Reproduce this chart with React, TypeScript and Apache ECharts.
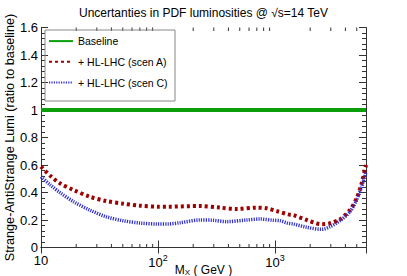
import React, { useEffect, useRef } from "react";
import * as echarts from "echarts";

const FONT = "'Liberation Sans', Arial, Helvetica, sans-serif";

const TITLE = "Uncertanties in PDF luminosities @ \u221As=14 TeV";
const Y_NAME = "Strange-AntiStrange Lumi (ratio to baseline)";
const SERIES_NAMES = ["Baseline", "+ HL-LHC (scen A)", "+ HL-LHC (scen C)"];

const MASS_BASE = [10, 6000];
const BASELINE = [1, 1];

const MASS_A = [10, 12, 14.5, 19, 26, 36, 50, 70, 100, 122, 229, 339, 471, 698, 849, 1034, 1300, 1433, 1866, 2508, 2951, 3594, 4375, 4990, 5507, 6000];
const SCEN_A = [0.588, 0.522, 0.467, 0.418, 0.37, 0.338, 0.319, 0.304, 0.297, 0.297, 0.302, 0.29, 0.28, 0.29, 0.285, 0.265, 0.241, 0.236, 0.2, 0.169, 0.176, 0.205, 0.273, 0.358, 0.467, 0.6];

const MASS_C = [10, 12, 14.5, 19, 26, 36, 50, 70, 100, 122, 154, 229, 295, 386, 573, 745, 967, 1104, 1300, 1433, 1866, 2508, 2951, 3594, 4375, 4990, 5507, 6000];
const SCEN_C = [0.515, 0.455, 0.4, 0.333, 0.273, 0.224, 0.195, 0.178, 0.171, 0.171, 0.18, 0.2, 0.198, 0.188, 0.2, 0.207, 0.198, 0.195, 0.176, 0.171, 0.147, 0.132, 0.151, 0.195, 0.26, 0.345, 0.442, 0.55];

const X_MIN = 10;
const X_MAX = 6000;
const Y_MIN = 0;
const Y_MAX = 1.6;
const Y_STEP = 0.2;
const X_MINOR_TICKS = [20, 30, 40, 50, 60, 70, 80, 90, 200, 300, 400, 500, 600, 700, 800, 900, 2000, 3000, 4000, 5000];

const zip = (xs: number[], ys: number[]) => xs.map((x, i) => [x, ys[i]]);

export default function App() {
  const ref = useRef<HTMLDivElement>(null);
  useEffect(() => {
    if (!ref.current) return;
    const chart = echarts.init(ref.current, undefined, { renderer: "svg" });
    const axisColor = "#333";
    const xLabel = (v: number) => {
      const e = Math.log10(v);
      if (Math.abs(e - Math.round(e)) > 1e-6) return "";
      const n = Math.round(e);
      if (n === 1) return "10";
      return "10{sup|" + n + "}";
    };
    const option: any = {
      animation: false,
      backgroundColor: "#fff",
      textStyle: { fontFamily: FONT },
      title: {
        text: TITLE,
        left: "center",
        top: 2,
        textStyle: { fontSize: 12, fontWeight: "normal", color: "#000", fontFamily: FONT },
      },
      grid: { left: 41, right: 41, top: 27.5, bottom: 28.5, containLabel: false, outerBoundsMode: "none" },
      legend: {
        orient: "vertical",
        left: 48,
        top: 35.5,
        padding: 0,
        itemWidth: 24,
        itemHeight: 14,
        itemGap: 9.5,
        z: 10,
        itemStyle: { opacity: 0 },
        textStyle: { fontSize: 10.5, color: "#000", fontFamily: FONT },
        data: SERIES_NAMES,
      },
      graphic: [
        {
          type: "rect",
          z: 5,
          shape: { x: 45, y: 30, width: 130, height: 71 },
          style: { fill: "none", stroke: "#888", lineWidth: 1 },
        },
      ],
      xAxis: [
        {
          type: "log",
          logBase: 10,
          min: X_MIN,
          max: X_MAX,
          position: "bottom",
          name: "M{sub|X} ( GeV )",
          nameLocation: "middle",
          nameGap: 15,
          nameMoveOverlap: false,
          nameTextStyle: {
            fontSize: 12,
            color: "#000",
            fontFamily: FONT,
            rich: { sub: { fontSize: 8, padding: [6, 0, 0, 0], fontFamily: FONT } },
          },
          axisLine: { show: true, lineStyle: { color: axisColor, width: 1 } },
          axisTick: { show: true, inside: true, length: 7, lineStyle: { color: axisColor } },
          splitLine: { show: false },
          axisLabel: {
            show: true,
            formatter: xLabel,
            fontSize: 13,
            color: "#000",
            margin: 6,
            fontFamily: FONT,
            rich: { sup: { fontSize: 9, padding: [0, 0, 8, 0], fontFamily: FONT } },
          },
        },
        {
          type: "log",
          logBase: 10,
          min: X_MIN,
          max: X_MAX,
          position: "top",
          axisLine: { show: true, lineStyle: { color: axisColor, width: 1 } },
          axisTick: { show: true, inside: true, length: 6, lineStyle: { color: axisColor } },
          splitLine: { show: false },
          axisLabel: { show: false },
        },
      ],
      yAxis: [
        {
          type: "value",
          min: Y_MIN,
          max: Y_MAX,
          interval: Y_STEP,
          position: "left",
          name: Y_NAME,
          nameLocation: "middle",
          nameGap: 25,
          nameMoveOverlap: false,
          nameTextStyle: { fontSize: 12.7, color: "#000", fontFamily: FONT },
          axisLine: { show: true, lineStyle: { color: axisColor, width: 1 } },
          axisTick: { show: true, inside: true, length: 7, lineStyle: { color: axisColor } },
          minorTick: { show: true, splitNumber: 5, length: 4, lineStyle: { color: axisColor } },
          splitLine: { show: false },
          axisLabel: { fontSize: 13, color: "#000", margin: 3, fontFamily: FONT },
        },
        {
          type: "value",
          min: Y_MIN,
          max: Y_MAX,
          interval: Y_STEP,
          position: "right",
          axisLine: { show: true, lineStyle: { color: axisColor, width: 1 } },
          axisTick: { show: true, inside: true, length: 7, lineStyle: { color: axisColor } },
          minorTick: { show: true, splitNumber: 5, length: 4, lineStyle: { color: axisColor } },
          splitLine: { show: false },
          axisLabel: { show: false },
        },
      ],
      series: [
        {
          name: SERIES_NAMES[0],
          type: "line",
          data: zip(MASS_BASE, BASELINE),
          showSymbol: false,
          symbol: "none",
          itemStyle: { color: "#0a9e0a" },
          lineStyle: { color: "#0a9e0a", width: 4 },
          z: 3,
        },
        {
          name: SERIES_NAMES[1],
          type: "line",
          data: zip(MASS_A, SCEN_A),
          smooth: 0.3,
          showSymbol: false,
          symbol: "none",
          itemStyle: { color: "#a00000" },
          lineStyle: { color: "#a00000", width: 4, type: [3, 3] },
          z: 4,
        },
        {
          name: SERIES_NAMES[2],
          type: "line",
          data: zip(MASS_C, SCEN_C),
          smooth: 0.3,
          showSymbol: false,
          symbol: "none",
          itemStyle: { color: "#3030cc" },
          lineStyle: { color: "#3030cc", width: 3.5, type: [1.2, 1.2] },
          z: 4,
        },
        {
          type: "custom",
          silent: true,
          clip: false,
          data: X_MINOR_TICKS.map((v) => [v, Y_MIN]),
          encode: { x: 0, y: 1 },
          renderItem: (_params: any, api: any) => {
            const x = api.value(0);
            const pb = api.coord([x, Y_MIN]);
            const pt = api.coord([x, Y_MAX]);
            return {
              type: "group",
              children: [
                { type: "line", shape: { x1: pb[0], y1: pb[1], x2: pb[0], y2: pb[1] - 3.5 }, style: { stroke: axisColor, lineWidth: 1 } },
                { type: "line", shape: { x1: pt[0], y1: pt[1], x2: pt[0], y2: pt[1] + 3.5 }, style: { stroke: axisColor, lineWidth: 1 } },
              ],
            };
          },
        },
      ],
    };
    chart.setOption(option);
    return () => chart.dispose();
  }, []);
  return (
    <div
      ref={ref}
      style={{ position: "fixed", left: 0, top: 0, width: 407, height: 276, background: "#fff" }}
    />
  );
}
